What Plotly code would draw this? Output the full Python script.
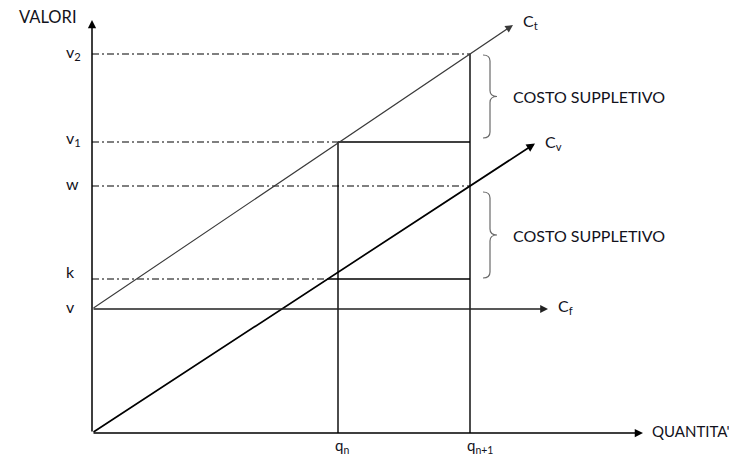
import plotly.graph_objects as go

# quantita' (asse x) e valori (asse y), unita' arbitrarie
q_names = ["q<sub>n</sub>", "q<sub>n+1</sub>"]
q_vals = [246, 378]

val_names = ["v", "k", "w", "v<sub>1</sub>", "v<sub>2</sub>"]
val_vals = [124, 154, 247, 291, 379]

curve_names = ["C<sub>t</sub>", "C<sub>v</sub>", "C<sub>f</sub>"]
curve_ends = [421, 443, 456]

axis_names = ["QUANTITA'", "VALORI"]
axis_ends = [551, 413]

brace_text = "COSTO SUPPLETIVO"

v, k, w, v1, v2 = val_vals
qn, qn1 = q_vals

ct_slope = (v2 - v) / qn1
cv_slope = w / qn1


def ct(q):
    return v + ct_slope * q


def cv(q):
    return cv_slope * q


def cf(q):
    return v


FONT = "Lato"
INK = "#12121c"
DASH = "7px,3px,2px,3px"

fig = go.Figure()


def seg(x0, y0, x1, y1, width=1.3, color="black", dash="solid"):
    fig.add_trace(go.Scatter(x=[x0, x1], y=[y0, y1], mode="lines",
                             line=dict(color=color, width=width, dash=dash),
                             hoverinfo="skip", showlegend=False))


def arrow(x0, y0, x1, y1, width=1.3, color="black", size=1.2):
    fig.add_annotation(x=x1, y=y1, ax=x0, ay=y0, xref="x", yref="y",
                       axref="x", ayref="y", text="", showarrow=True,
                       arrowhead=2, arrowsize=size, arrowwidth=width,
                       arrowcolor=color, standoff=0, startstandoff=0)


# tratteggi orizzontali
seg(0, v2, qn1, v2, width=1.1, dash=DASH)
seg(0, v1, qn, v1, width=1.1, dash=DASH)
seg(qn, v1, qn1, v1, width=1.4)
seg(0, w, qn1, w, width=1.1, dash=DASH)
xk = k / cv_slope
seg(0, k, xk, k, width=1.1, dash=DASH)
seg(xk, k, qn1, k, width=1.4)

# verticali
seg(qn, 0, qn, v1, width=1.4)
seg(qn1, 0, qn1, v2, width=1.4)

# curve di costo
arrow(0, ct(0), curve_ends[0], ct(curve_ends[0]), width=1.1, color="#3a3a3a", size=1.4)
arrow(0, cv(0), curve_ends[1], cv(curve_ends[1]), width=1.7, color="black", size=1.0)
arrow(0, cf(0), curve_ends[2], cf(curve_ends[2]), width=1.3, color="#222", size=1.2)

# assi
arrow(0, 0, axis_ends[0], 0, width=1.5, size=1.1)
arrow(0, 0, 0, axis_ends[1], width=1.5, size=1.1)

# etichette curve
for name, xe, f, dy in zip(curve_names, curve_ends, [ct, cv, cf], [3, 1, 3]):
    fig.add_annotation(x=xe, y=f(xe), text=name, showarrow=False,
                       xanchor="left", yanchor="middle", xshift=8, yshift=dy,
                       font=dict(family=FONT, size=16, color=INK))

# etichette asse y
shifts = [3, 8, 3, 4, 2]
for name, val, s in zip(val_names, val_vals, shifts):
    fig.add_annotation(x=-28, y=val, text=name, showarrow=False,
                       xanchor="left", yanchor="middle", yshift=s,
                       font=dict(family=FONT, size=16, color=INK))

# etichette asse x
for name, q in zip(q_names, q_vals):
    fig.add_annotation(x=q, y=0, text=name, showarrow=False,
                       xanchor="left", yanchor="top", xshift=-5, yshift=-1,
                       font=dict(family=FONT, size=15, color=INK))

fig.add_annotation(x=axis_ends[0], y=0, text=axis_names[0], showarrow=False,
                   xanchor="left", yanchor="middle", xshift=7, yshift=2,
                   font=dict(family=FONT, size=15, color=INK))
fig.add_annotation(x=0, y=axis_ends[1], text=axis_names[1], showarrow=False,
                   xanchor="right", yanchor="middle", xshift=-13, yshift=3,
                   font=dict(family=FONT, size=16.5, color=INK))


# parentesi graffe
def brace(x0, top, bot, wdt=14, r=6):
    xm = x0 + wdt / 2
    x1 = x0 + wdt
    mid = (top + bot) / 2
    path = (f"M {x0},{top} Q {xm},{top} {xm},{top - r} L {xm},{mid + r} "
            f"Q {xm},{mid} {x1},{mid} Q {xm},{mid} {xm},{mid - r} "
            f"L {xm},{bot + r} Q {xm},{bot} {x0},{bot}")
    fig.add_shape(type="path", path=path, xref="x", yref="y",
                  line=dict(color="#6a6a6a", width=1.2))
    fig.add_annotation(x=x1, y=mid, text=brace_text, showarrow=False,
                       xanchor="left", yanchor="middle", xshift=14,
                       font=dict(family=FONT, size=16, color=INK))


brace(qn1 + 13, v2 - 1, v1 + 4)
brace(qn1 + 13, w - 6, k + 1)

# la pagina html ha un margine di 8px: figura ridotta di conseguenza
fig.update_layout(
    width=729, height=449,
    margin=dict(l=0, r=0, t=0, b=0),
    paper_bgcolor="white", plot_bgcolor="white",
    xaxis=dict(range=[-84, 645], visible=False, fixedrange=True),
    yaxis=dict(range=[-24, 425], visible=False, fixedrange=True),
    showlegend=False,
)

fig.write_html("out.html")
